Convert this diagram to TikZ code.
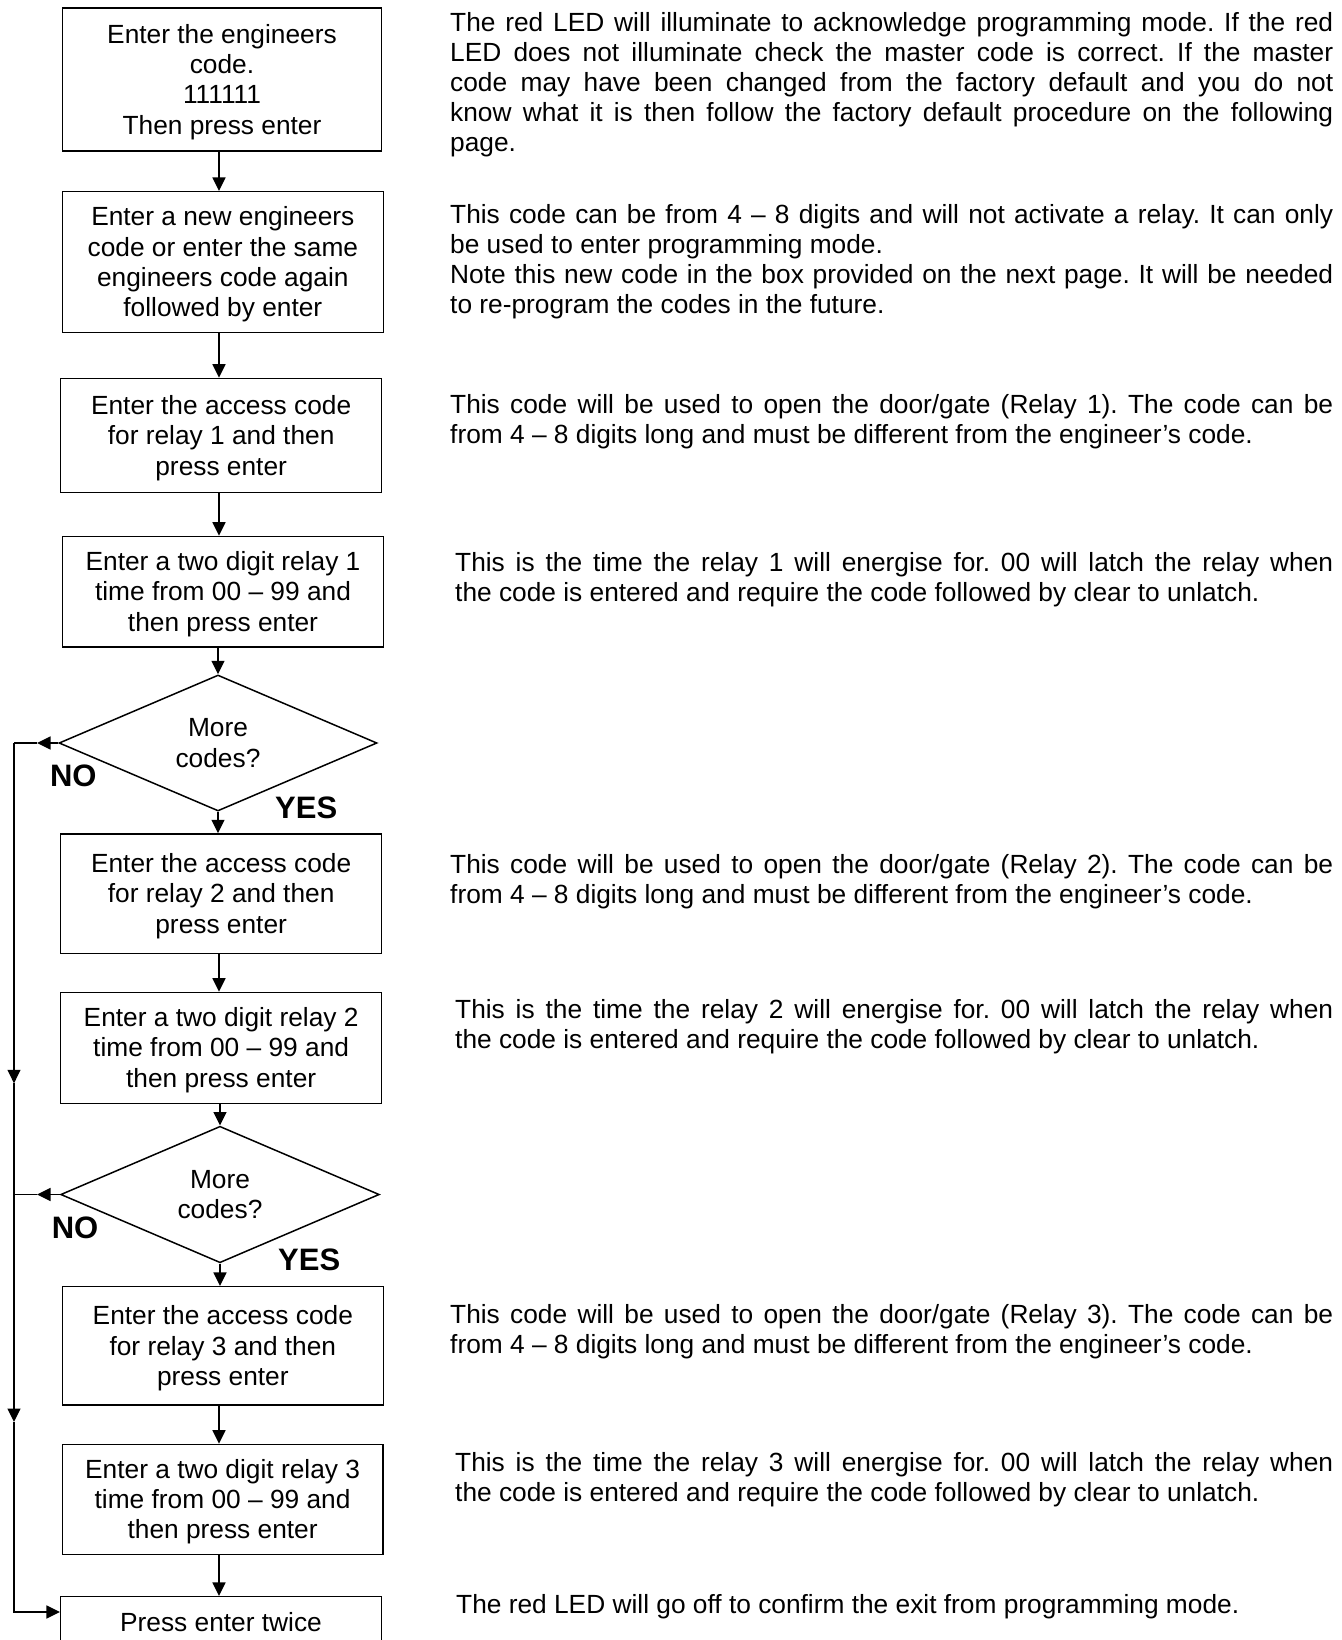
\documentclass[tikz,border=0pt]{standalone}
\usepackage{fontspec}
\setmainfont{Liberation Sans}
\usetikzlibrary{shapes.geometric,arrows.meta}
\newcommand{\bxfont}{\fontsize{26.3}{30.4}\selectfont}
\newcommand{\rtfont}{\fontsize{26.3}{30}\selectfont}
\newcommand{\lblfont}{\fontsize{31}{36}\selectfont\bfseries}
\newcommand{\fstrut}{\rule[-0.212em]{0pt}{1.117em}}
\tolerance=10000
\hyphenpenalty=10000
\frenchspacing
\begin{document}
\begin{tikzpicture}[x=1pt,y=-1pt,
  box/.style={draw, line width=1.5pt, inner sep=0pt, align=center, font=\bxfont},
  dec/.style={diamond, aspect=2.34, draw, line width=1.5pt, inner sep=0pt, align=center, font=\bxfont},
  arr/.style={line width=1.5pt, -{Triangle[length=13.5pt,width=13pt]}},
  conn/.style={line width=1.5pt},
  lbl/.style={font=\lblfont, inner sep=0pt},
  para/.style={anchor=base west, inner sep=0pt, align=justify, font=\rtfont}]
\useasboundingbox (0,0) rectangle (1341,1640);
\clip (0,0) rectangle (1341,1640);

% flow boxes
\node[box, minimum width=319.2pt, minimum height=143pt] (b1) at (222,79.5)
  {\fstrut Enter the engineers\\code.\\111111\\Then press enter\fstrut};
\node[box, minimum width=320.9pt, minimum height=140.9pt] (b2) at (222.85,262.15)
  {\fstrut Enter a new engineers\\code or enter the same\\engineers code again\\followed by enter\fstrut};
\node[box, minimum width=320.9pt, minimum height=114.2pt] (b3) at (221.15,435.5)
  {\fstrut Enter the access code\\for relay 1 and then\\press enter\fstrut};
\node[box, minimum width=321.2pt, minimum height=110.6pt] (b4) at (223,591.7)
  {\fstrut Enter a two digit relay 1\\time from 00 – 99 and\\then press enter\fstrut};
\node[dec, minimum width=318pt, minimum height=136pt] (d1) at (218,743)
  {\fstrut More\\codes?\fstrut};
\node[box, minimum width=320.9pt, minimum height=119.3pt] (b5) at (221.15,893.65)
  {\fstrut Enter the access code\\for relay 2 and then\\press enter\fstrut};
\node[box, minimum width=320.9pt, minimum height=110.9pt] (b6) at (221.15,1047.85)
  {\fstrut Enter a two digit relay 2\\time from 00 – 99 and\\then press enter\fstrut};
\node[dec, minimum width=318.6pt, minimum height=136.5pt] (d2) at (220,1194.5)
  {\fstrut More\\codes?\fstrut};
\node[box, minimum width=320.9pt, minimum height=118.4pt] (b8) at (222.85,1345.9)
  {\fstrut Enter the access code\\for relay 3 and then\\press enter\fstrut};
\node[box, minimum width=320.4pt, minimum height=109.9pt] (b9) at (222.6,1499.35)
  {\fstrut Enter a two digit relay 3\\time from 00 – 99 and\\then press enter\fstrut};
\node[box, minimum width=320.6pt, minimum height=50.6pt] (b10) at (221,1622)
  {\fstrut Press enter twice\fstrut};

% decision labels
\node[lbl] (no1) at (73.3,775.8) {NO};
\node[lbl] (yes1) at (306.2,807.8) {YES};
\node[lbl] (no2) at (75,1228.3) {NO};
\node[lbl] (yes2) at (309.2,1259.6) {YES};

% main flow connectors
\coordinate (ax) at (219,0);
\draw[arr] (b1.south -| ax) -- (b2.north -| ax);
\draw[arr] (b2.south -| ax) -- (b3.north -| ax);
\draw[arr] (b3.south -| ax) -- (b4.north -| ax);
\draw[arr] (b4.south -| d1.north) -- (d1.north);
\draw[arr] (d1.south) -- (b5.north -| d1.south);
\draw[arr] (b5.south -| ax) -- (b6.north -| ax);
\draw[arr] (b6.south -| d2.north) -- (d2.north);
\draw[arr] (d2.south) -- (b8.north -| d2.south);
\draw[arr] (b8.south -| ax) -- (b9.north -| ax);
\draw[arr] (b9.south -| ax) -- (b10.north -| ax);

% NO loop on the left
\coordinate (t1) at (37,743);
\coordinate (c1) at (14,743);
\coordinate (m1) at (14,1083.3);
\coordinate (t2) at (37,1194.5);
\coordinate (c2) at (14,1194.5);
\coordinate (m2) at (14,1422);
\coordinate (c3) at (14,1612);
\draw[arr] (d1.west) -- (t1);
\draw[conn] (t1) -- (c1);
\draw[arr] (d2.west) -- (t2);
\draw[conn] (t2) -- (c2);
\draw[arr] (c1) -- (m1);
\draw[arr] (m1) -- (m2);
\draw[arr] (m2) |- (c3 -| b10.west);

% explanatory text
\node[para, text width=883pt] (p1) at (450,31.7)
  {The red LED will illuminate to acknowledge programming mode. If the red\linebreak
   LED does not illuminate check the master code is correct. If the master\linebreak
   code may have been changed from the factory default and you do not\linebreak
   know what it is then follow the factory default procedure on the following\linebreak
   page.};
\node[para, text width=883pt] (p2) at (450,223.3)
  {This code can be from 4 – 8 digits and will not activate a relay. It can only\linebreak
   be used to enter programming mode.\par
   Note this new code in the box provided on the next page. It will be needed\linebreak
   to re-program the codes in the future.};
\node[para, text width=883pt] (p3) at (450,413.3)
  {This code will be used to open the door/gate (Relay 1). The code can be\linebreak
   from 4 – 8 digits long and must be different from the engineer’s code.};
\node[para, text width=878pt] (p4) at (455,571.7)
  {This is the time the relay 1 will energise for. 00 will latch the relay when\linebreak
   the code is entered and require the code followed by clear to unlatch.};
\node[para, text width=883pt] (p5) at (450,873.3)
  {This code will be used to open the door/gate (Relay 2). The code can be\linebreak
   from 4 – 8 digits long and must be different from the engineer’s code.};
\node[para, text width=878pt] (p6) at (455,1018.3)
  {This is the time the relay 2 will energise for. 00 will latch the relay when\linebreak
   the code is entered and require the code followed by clear to unlatch.};
\node[para, text width=883pt] (p7) at (450,1323.3)
  {This code will be used to open the door/gate (Relay 3). The code can be\linebreak
   from 4 – 8 digits long and must be different from the engineer’s code.};
\node[para, text width=878pt] (p8) at (455,1471.7)
  {This is the time the relay 3 will energise for. 00 will latch the relay when\linebreak
   the code is entered and require the code followed by clear to unlatch.};
\node[anchor=base west, inner sep=0pt, font=\rtfont] (p9) at (456,1613)
  {The red LED will go off to confirm the exit from programming mode.};
\end{tikzpicture}
\end{document}
